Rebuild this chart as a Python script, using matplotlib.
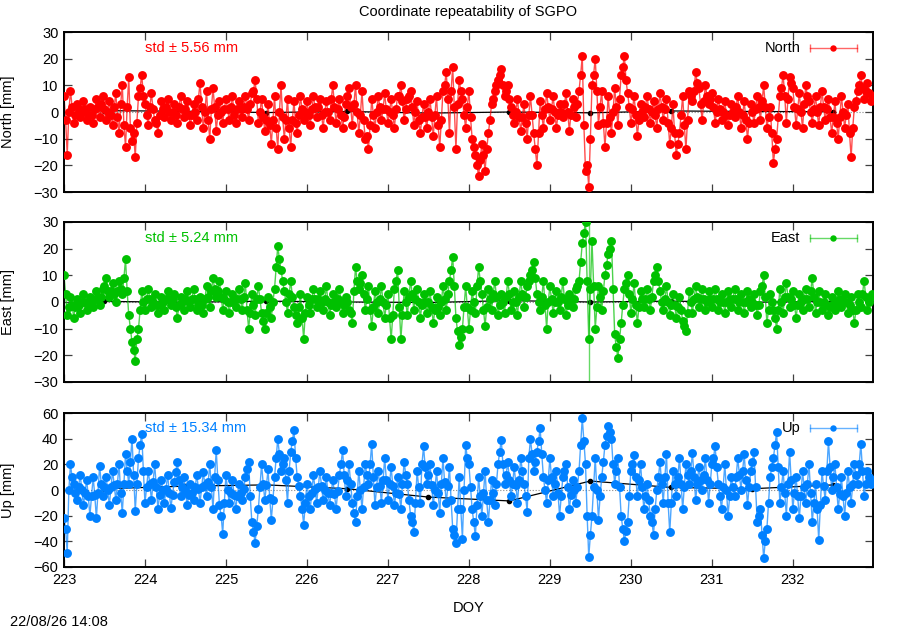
import numpy as np
import matplotlib
matplotlib.use("Agg")
import matplotlib.pyplot as plt

plt.rcParams['font.family'] = ['Liberation Sans', 'DejaVu Sans']
plt.rcParams['font.size'] = 10.5

# epochs: readings every 0.04 day from DOY 223.00, plus the in-between
# readings at 223.02, 223.06, ...
doy_start = 223.0
doy_step = 0.04
mid_offset = 0.02

# North residuals [mm]
north = [
    6, -16, 8, -4, 3, -2, 4, -3, 2, -4, 5, -2, 6, -3, 4, -5, 7, -8, 10, -13, 13, -11, -17, 6, 14,
    3, -5, 7, -3, -8, 4, -2, 5, -3, 3, -4, 6, -2, 4, -5, 3, -3, 11, -6, 8, -10, 9, -7, 4, -4,
    5, -3, 6, -4, 4, -2, 6, -3, 7, 12, -4, 5, -7, 3, -12, 6, -14, 10, -10, 5, -13, 4, -8, 6, -3,
    4, -5, 6, -2, 5, -6, 4, -3, 10, -4, 5, -6, 3, 9, -5, 10, -8, 8, -10, -14, 5, -6, 6, -3, 7,
    -4, 5, -6, 6, 10, -3, 5, 8, -5, 4, -8, 3, -6, 5, -9, 6, -13, 8, 15, -8, 17, -14, 12, 5, -6,
    8, -10, -16, -24, -12, -22, -8, 3, 8, 12, 16, 6, 10, 2, -4, 5, -7, 3, -10, 6, -8, -20, 4, -6, 7,
    -3, 6, -6, 3, -2, 7, -7, 5, -2, 8, 21, -22, -28, 10, 20, -5, 8, -13, 6, -8, 9, -5, 14, 21, 7,
    -4, 6, -9, 3, -2, 6, -4, 4, -6, 7, -3, 5, -12, 3, -16, -8, 6, -14, 8, 4, 15, 9, -3, 10, 3,
    7, -4, 5, -3, 4, -5, 3, -2, 6, -6, 4, -10, 3, -4, 6, -3, 10, -6, 2, -19, -10, 6, 14, -4, 13,
    9, -5, 7, -6, 10, 4, -4, 6, -5, 8, -3, 5, -8, 4, -10, 6, -6, 3, -17, 2, 8, 14, 5, 11, 4,
]
north_mid = [
    -3, 0, 2, -1, 1, 0, 1, -1, -1, 1, 2, 3, 1, 0, -1, 2, -2, 3, -5, 2, -6, -8, -4, 9, 6,
    -1, 2, 1, -4, -1, 1, 2, 0, 0, -1, 2, 1, 1, -1, -1, 0, 5, 2, 0, -3, 1, 2, -1, 0, 1,
    1, 2, -1, 1, 1, 2, 1, 3, 8, 5, 0, -2, -3, -5, -3, -6, 0, -2, -3, -6, -3, -4, -1, 1, 0,
    -1, 1, 2, 2, -1, 0, 0, 5, 2, 1, -1, -2, 6, 2, 3, 0, -1, -3, -9, -5, -1, 0, 2, 1, 1,
    0, -1, 1, 6, 4, 1, 6, 2, 0, -3, -2, -2, 0, -2, -1, -5, -3, 10, 5, 8, 2, 3, 8, -1, 2,
    -2, -13, -20, -18, -16, -14, -3, 5, 10, 14, 10, 8, 5, -1, 0, -2, -2, -4, -1, -1, -14, -8, -1, 1, 2,
    1, 0, -1, 0, 3, 0, -1, 2, 3, 14, -5, -20, -10, 14, 8, 2, -4, -4, -2, 0, 2, 5, 17, 12, 2,
    1, -1, -3, 0, 2, 1, 0, -1, 1, 2, 1, -4, -6, -8, -12, -1, -5, -3, 6, 8, 11, 3, 4, 6, 5,
    2, 0, 1, 0, -1, -1, 0, 2, 0, -1, -3, -4, 0, 1, 2, 4, 2, -2, -8, -14, -2, 9, 6, 5, 11,
    2, 1, 0, 3, 6, 0, 1, 0, 2, 2, 1, -2, -2, -4, -2, 0, -1, -8, -6, 4, 10, 9, 8, 7, 6,
]

# East residuals [mm]
east = [
    10, -5, 2, -6, 1, -4, 3, -3, 2, -2, 4, -1, 5, 9, 2, 7, 0, 8, 3, 16, -5, -15, -22, -10, 4,
    -3, 5, -2, 3, -4, 2, -3, 4, -1, 3, -6, 2, -3, 4, -2, 5, -3, 2, -4, 6, -2, 9, 2, 8, -3,
    4, -4, 3, -2, 5, -3, 7, -10, 3, -5, 6, -4, -10, 2, -6, 5, 21, 12, 4, -4, 8, -2, -8, 3, -14,
    2, -4, 5, -2, 4, -3, 6, -5, 3, -2, 5, -4, 2, -3, -8, 13, 5, 10, -3, 6, -9, 4, -4, 6, -6,
    3, -14, 5, 12, -14, 4, -5, 8, -3, 5, -6, 3, -4, 4, -8, 2, -5, 6, -3, 8, 17, -6, -16, -10, 6,
    -10, 4, -4, 13, 3, -9, 5, -3, 8, -5, 3, -4, 8, -3, 4, -5, 8, -2, 6, 10, 15, 3, -3, 8, -10,
    6, -4, 4, -3, 8, -5, 3, -2, 5, 8, 22, 30, -14, 23, -10, 6, -3, 10, 18, 23, -12, -21, -8, 5, 10,
    -4, 7, -8, 4, -2, 5, -3, 8, 13, 4, -3, 6, -5, 3, -6, 2, -7, -11, 4, -4, 6, -2, 5, -3, 4,
    -2, 5, -3, 3, -4, 4, -2, 5, -3, 3, -4, 4, -2, 3, -5, 4, 10, -8, 3, -3, -10, 5, -4, 7, -2,
    4, -6, 3, -3, 5, -2, 9, -4, 4, -3, 3, -5, 2, -3, 4, -2, 3, -4, 2, -8, 3, -2, 8, -3, 2,
]
east_mid = [
    3, -2, -1, -2, -1, 0, 0, -1, 0, 1, 1, 2, 6, 4, 4, 3, 4, 5, 9, 4, -10, -18, -14, -3, 0,
    1, 1, 0, -1, -1, 0, 1, 1, 1, -2, -1, 0, 1, 0, 1, 1, -1, -1, 1, 2, 4, 5, 4, 2, 1,
    0, 0, 1, 1, 1, 2, -3, -4, -1, 1, 1, -7, -4, -2, 0, 13, 16, 8, 0, 3, 2, -5, -2, -6, -4,
    -1, 1, 1, 1, 0, 1, 0, -1, 0, 1, 0, -1, 0, -4, 4, 8, 7, 3, 1, -3, -2, 0, 1, 0, -1,
    -6, -5, 8, -2, -5, 0, 2, 3, 1, 0, -1, 0, 0, -2, -3, -2, 0, 1, 3, 12, 6, -11, -13, -2, -2,
    -3, 0, 6, 8, -3, -2, 1, 3, 2, -1, 0, 2, 3, 0, 0, 2, 3, 2, 8, 12, 9, 0, 2, -1, 0,
    1, 0, 0, 2, 1, -1, 1, 1, 6, 15, 26, 8, 5, 6, -2, 2, 4, 14, 20, 5, -17, -14, -1, 7, 3,
    1, -1, -2, 1, 1, 1, 2, 10, 8, 0, 1, 0, -1, -1, -2, -3, -9, -4, 0, 1, 2, 1, 1, 0, 1,
    1, 1, 0, 0, 0, 1, 1, 1, 0, 0, 0, 1, 0, -1, -1, 6, 2, -3, 0, -6, -3, 0, 2, 2, 1,
    -1, -1, 0, 1, 1, 4, 2, 0, 0, 0, -1, -2, -1, 0, 1, 0, 0, -1, -3, -3, 0, 3, 2, 0, 3,
]

# Up residuals [mm]
up = [
    -22, -49, 20, 5, -8, 12, -12, 8, -20, 10, -22, 19, -5, 10, -12, 15, -8, 20, -18, 28, 5, 40, -16, 25, 44,
    -10, 15, -8, 20, -15, 8, -10, 12, -14, 6, 22, -5, 10, -12, 5, -8, 12, -10, 14, -5, 20, -15, 31, -12, -34,
    12, -10, 8, -15, 5, -8, 10, 22, -25, -41, -15, 20, -8, 16, -23, 10, 40, 15, 25, -10, 30, 47, 10, -5, -27,
    5, -15, 12, -10, 15, -8, 10, -12, 8, -15, 12, 31, -5, 20, -10, -25, 15, -15, 20, 5, 36, -12, 15, -10, 25,
    -8, 18, -12, 10, -15, 22, 5, -20, -33, 15, -10, 34, 5, 20, -12, 15, -18, 25, -10, 18, -30, -41, 10, -38, 35,
    20, -15, -36, 10, -20, 15, -25, 8, -12, 20, 39, 5, 22, -5, 18, -10, 25, 5, -17, 40, 15, 30, 48, 10, -10,
    25, -5, 15, -20, 10, 20, -15, 8, -10, 15, 56, 20, -52, -20, 25, -23, 10, 35, 50, 40, 5, 25, -20, -40, -25,
    15, 27, -5, 20, -15, 5, -20, -35, 0, 22, -10, 28, -33, 15, -5, 25, -15, 20, 5, 29, -8, 18, 0, 25, -10,
    20, 34, 5, -15, 20, -20, 10, -5, 25, 0, 28, -12, 15, 30, -25, -15, -53, -30, 10, 25, 45, -10, 15, -20, 30,
    -15, 10, -22, 15, -10, 20, -25, 5, -39, 15, -8, 38, 0, 20, -15, 10, -20, 15, -10, 20, 5, 36, -5, 15, 5,
]
up_mid = [
    -30, 0, 10, -2, 2, 0, -2, -5, -5, -4, -2, 5, 2, 0, 2, 4, 5, -2, 5, 15, 22, 12, 5, 35, 15,
    2, 5, 6, 2, -4, 0, 1, -2, -4, 14, 8, 2, 0, -4, -2, 2, 1, 2, 4, 6, 2, 10, 8, -20, -10,
    0, -2, -4, -5, -2, 1, 16, -5, -33, -28, 2, 5, 4, -6, -8, 25, 28, 20, 8, 15, 38, 25, 3, -15, -10,
    -5, -2, 1, 2, 3, 0, -2, -2, -3, -1, 20, 12, 8, 5, -18, -5, 0, 2, 12, 20, 10, 2, 3, 8, 8,
    5, 3, -2, -3, 5, 12, -8, -25, -10, 2, 20, 18, 12, 4, 0, -2, 5, 6, 3, -8, -35, -15, -15, 0, 25,
    2, -25, -12, -5, -2, -8, -8, -2, 5, 30, 20, 12, 8, 5, 4, 8, 15, -5, 25, 28, 22, 38, 28, 0, 8,
    10, 5, -2, -5, 15, 2, -4, 0, 2, 35, 38, -20, -35, 2, 0, -5, 22, 42, 45, 20, 15, 2, -30, -32, -5,
    20, 10, 8, 2, -5, -8, -25, -15, 10, 5, 10, -10, -10, 5, 10, 5, 2, 12, 15, 10, 5, 8, 12, 8, 5,
    25, 18, -5, 2, 0, -5, 2, 10, 12, 15, 8, 2, 22, 2, -20, -35, -40, -10, 18, 35, 18, 2, -2, 5, 8,
    -2, -5, -5, 2, 5, -2, -10, -15, -12, 3, 15, 18, 10, 2, -3, -5, -2, 2, 5, 12, 20, 15, 5, 10, 8,
]

# daily solutions (black), at noon of each day
day_doy = [223.5, 224.5, 225.5, 226.5, 227.5, 228.5, 229.5, 230.5, 231.5, 232.5]
day_north = [0.5, 0.3, -0.2, 0.2, -0.4, 0.0, -0.3, 0.4, 0.2, 0.1]
day_east = [0.2, -0.1, 0.3, 0.0, -0.2, 0.5, 0.0, 0.3, -0.1, 0.2]
day_up = [1, 3, 4, 1, -5.5, -8.5, 7, 2, 1, 4]

# one epoch with a very large formal error in East
east_bad_doy = 229.48
east_bad_sig = 50

std_text = ["std \u00b1 5.56 mm", "std \u00b1 5.24 mm", "std \u00b1 15.34 mm"]
names = ["North", "East", "Up"]
ylabels = ["North [mm]", "East [mm]", "Up [mm]"]
colors = ["#ff0000", "#00c000", "#0080ff"]
ylims = [(-30, 30), (-30, 30), (-60, 60)]
yticks = [np.arange(-30, 31, 10), np.arange(-30, 31, 10), np.arange(-60, 61, 20)]


def merge(a, b):
    # interleave the main readings with the in-between ones
    return np.column_stack([np.asarray(a, float), np.asarray(b, float)]).ravel()


n = len(north)
doy_a = doy_start + doy_step * np.arange(n)
doy = merge(doy_a, doy_a + mid_offset)
series = [merge(north, north_mid), merge(east, east_mid), merge(up, up_mid)]
daily = [day_north, day_east, day_up]

fig = plt.figure(figsize=(9, 6.3), dpi=100)
boxes = [
    [0.0711, 0.6952, 0.8989, 0.254],
    [0.0711, 0.3937, 0.8989, 0.254],
    [0.0711, 0.1000, 0.8989, 0.2444],
]

axes = []
for i in range(3):
    ax = fig.add_axes(boxes[i])
    c = colors[i]
    vals = series[i]
    ax.axhline(0, color="#888888", ls=":", lw=0.8, zorder=1)
    ax.plot(day_doy, daily[i], "-", color="k", lw=0.9, zorder=1.5)
    ax.plot(day_doy, daily[i], "o", color="k", ms=3, zorder=1.5)
    ax.plot(doy, vals, "-", color=c, lw=1.0, alpha=0.7, zorder=2)
    ax.plot(doy, vals, "o", color=c, ms=6.4, mew=0, zorder=3)
    if i == 1:
        k = int(np.argmin(np.abs(doy - east_bad_doy)))
        ax.errorbar([doy[k]], [vals[k]], yerr=[east_bad_sig], fmt="none",
                    ecolor=c, elinewidth=1.0, alpha=0.6, capsize=3, zorder=2)

    ax.set_xlim(223.0, 232.99)
    ax.set_ylim(*ylims[i])
    ax.set_yticks(yticks[i])
    ax.set_xticks(np.arange(223, 233, 1))
    ax.tick_params(direction="in", top=True, right=True, length=6, width=0.9,
                   color="#404040", labelsize=10.5, pad=4)
    for s in ax.spines.values():
        s.set_linewidth(1.4)
    if i < 2:
        ax.tick_params(labelbottom=False)
    ax.set_ylabel(ylabels[i], fontsize=10.5)
    ax.yaxis.set_label_coords(-0.06, 0.5)

    ax.text(0.10, 0.9, std_text[i], transform=ax.transAxes, color=c,
            ha="left", va="center", fontsize=10.5)
    # key in the gnuplot style: name, then line with end caps and a point
    ax.text(0.91, 0.9, names[i], transform=ax.transAxes, ha="right",
            va="center", fontsize=10.5)
    ax.plot([0.922, 0.98], [0.9, 0.9], "-", color=c, lw=1.0, alpha=0.6,
            transform=ax.transAxes, clip_on=False)
    ax.plot([0.922, 0.98], [0.9, 0.9], "|", color=c, ms=6, mew=1.0, alpha=0.6,
            transform=ax.transAxes, clip_on=False)
    ax.plot([0.951], [0.9], "o", color=c, ms=4.6, mew=0,
            transform=ax.transAxes, clip_on=False)
    axes.append(ax)

axes[2].set_xlabel("DOY", fontsize=10.5)
axes[2].xaxis.set_label_coords(0.5, -0.22)

fig.text(0.52, 1 - 12 / 630, "Coordinate repeatability of SGPO", ha="center",
         va="center", fontsize=10.5)
fig.text(10 / 900, 1 - 622 / 630, "22/08/26 14:08", ha="left", va="center",
         fontsize=10.5)

fig.savefig("out.png", dpi=100)
